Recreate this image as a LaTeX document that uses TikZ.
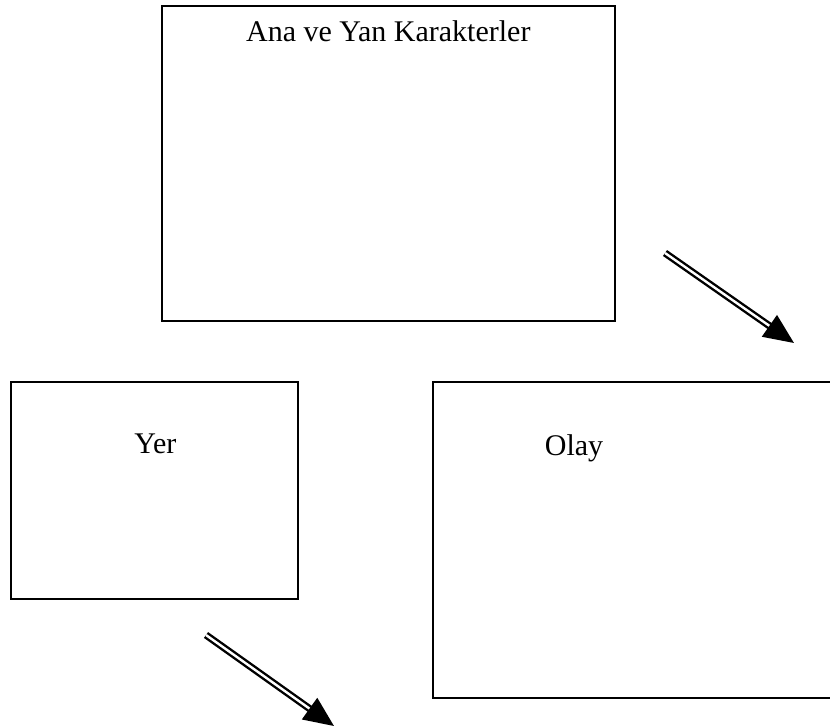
\documentclass[tikz,border=0pt]{standalone}
\usepackage{fontspec}
\setmainfont{Liberation Serif}
\usetikzlibrary{positioning,arrows.meta}

\begin{document}
\begin{tikzpicture}[x=1pt,y=-1pt,
    box/.style={rectangle,draw,line width=1.7pt,inner sep=0pt,anchor=north west},
    lbl/.style={font=\fontsize{30}{36}\selectfont,inner sep=0pt},
    dblarrow/.style={double,double distance=2.4pt,line width=2.4pt,-{Triangle[length=30pt,width=26pt]}}]
    \useasboundingbox (0,0) rectangle (830,726);
    \node[box,minimum width=453pt,minimum height=315pt] (chars) at (161,5) {};
    \node[lbl,below=15pt of chars.north] (charstxt) {Ana ve Yan Karakterler};
    \node[box,minimum width=287pt,minimum height=217pt] (place) at (10,381) {};
    \node[lbl,below=53pt of place.north,xshift=1pt] (placetxt) {Yer};
    \node[box,minimum width=420pt,minimum height=316pt] (event) at (432,381) {};
    \node[lbl,anchor=north] (eventtxt) at (574,434) {Olay};
    % arrows
    \coordinate (a1s) at (665,253);
    \coordinate (a1e) at (794,343);
    \draw[dblarrow] (a1s) -- (a1e);
    \coordinate (a2s) at (206,635);
    \coordinate (a2e) at (334,726);
    \draw[dblarrow] (a2s) -- (a2e);
\end{tikzpicture}
\end{document}
